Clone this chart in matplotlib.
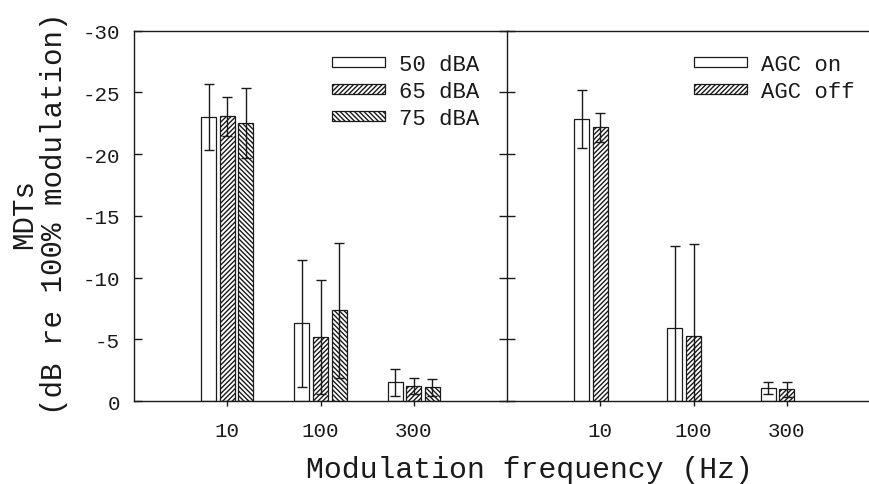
import numpy as np
import matplotlib
matplotlib.use("Agg")
import matplotlib.pyplot as plt

plt.rcParams['font.family'] = ['Liberation Mono', 'DejaVu Sans Mono']
plt.rcParams['hatch.linewidth'] = 1.0
plt.rcParams['axes.linewidth'] = 1.0

freqs = ['10', '100', '300']

# left panel: presentation level
level_labels = ['50 dBA', '65 dBA', '75 dBA']
level_means = [[-23.0, -6.3, -1.5],
               [-23.05, -5.2, -1.2],
               [-22.5, -7.35, -1.1]]
level_err = [[2.65, 5.15, 1.1],
             [1.6, 4.6, 0.65],
             [2.85, 5.45, 0.7]]

# right panel: AGC
agc_labels = ['AGC on', 'AGC off']
agc_means = [[-22.85, -5.95, -1.05],
             [-22.15, -5.3, -0.95]]
agc_err = [[2.35, 6.6, 0.5],
           [1.2, 7.4, 0.6]]

level_hatch = ['', '///////', '\\\\\\\\\\\\\\']
agc_hatch = ['', '///////']
level_offset = [-0.2, 0.0, 0.2]
agc_offset = [-0.2, 0.0]

ink = '#1a1a1a'
W, H = 869, 485
fig = plt.figure(figsize=(W / 100, H / 100), dpi=100)
bottom = 1 - 402 / H
height = (402 - 31.5) / H
ax1 = fig.add_axes([134 / W, bottom, 373 / W, height])
ax2 = fig.add_axes([507 / W, bottom, 373 / W, height])

x = np.arange(1, len(freqs) + 1)
bw = 0.16


def draw(ax, means, errs, hatches, offsets, labels):
    handles = []
    for m, e, h, off, lab in zip(means, errs, hatches, offsets, labels):
        b = ax.bar(x + off, m, width=bw, color='white', edgecolor=ink,
                   linewidth=0.9, hatch=h, label=lab, zorder=2)
        ax.errorbar(x + off, m, yerr=e, fmt='none', ecolor=ink,
                    elinewidth=1.0, capsize=3.6, capthick=1.0, zorder=3)
        handles.append(b)
    return handles


h1 = draw(ax1, level_means, level_err, level_hatch, level_offset, level_labels)
h2 = draw(ax2, agc_means, agc_err, agc_hatch, agc_offset, agc_labels)

for ax in (ax1, ax2):
    ax.set_xlim(0, 4)
    ax.set_ylim(0, -30)
    ax.set_xticks(x)
    ax.set_xticklabels(freqs)
    ax.set_yticks(np.arange(0, -31, -5))
    ax.tick_params(axis='x', direction='out', length=3.6, width=1.0,
                   labelsize=15, pad=10.5, colors=ink)
    for s in ax.spines.values():
        s.set_color(ink)
    ax.spines['right'].set_visible(False)

ax1.tick_params(axis='y', direction='in', length=6, width=1.0,
                labelsize=15, pad=10, colors=ink)
ax1.set_yticklabels([str(v) for v in np.arange(0, -31, -5)])
ax2.tick_params(axis='y', direction='inout', length=12, width=1.0,
                labelleft=False, colors=ink)

leg_kw = dict(frameon=False, fontsize=16, handlelength=2.4, handleheight=0.36,
              handletextpad=0.62, labelspacing=0.27, borderpad=0,
              borderaxespad=0, loc='upper left')
for t in ax1.legend(handles=h1, bbox_to_anchor=(332 / W, 1 - 55 / H),
                    bbox_transform=fig.transFigure, **leg_kw).get_texts():
    t.set_color(ink)
for t in ax2.legend(handles=h2, bbox_to_anchor=(694 / W, 1 - 55 / H),
                    bbox_transform=fig.transFigure, **leg_kw).get_texts():
    t.set_color(ink)

fig.text(39 / W, 1 - 214 / H, 'MDTs\n(dB re 100% modulation)', rotation=90,
         ha='center', va='center', multialignment='center', fontsize=21,
         color=ink, linespacing=1.1)
fig.text(529 / W, 1 - 478 / H, 'Modulation frequency (Hz)', ha='center',
         va='baseline', fontsize=21.5, color=ink)

fig.savefig('out.png', dpi=100)
